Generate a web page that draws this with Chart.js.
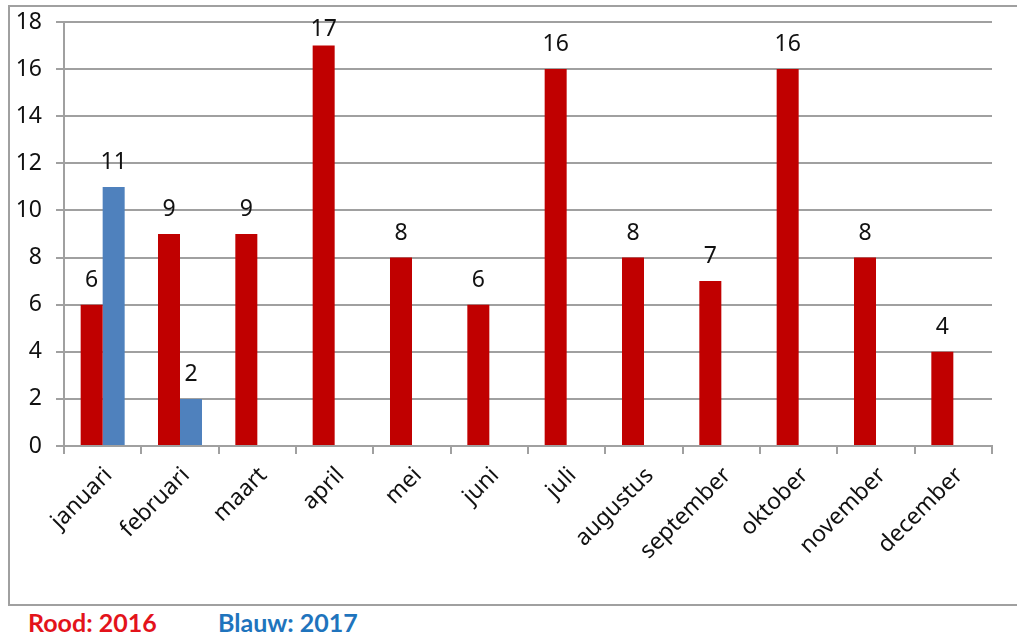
<!DOCTYPE html>
<html>
<head>
<meta charset="utf-8">
<script src="https://cdn.jsdelivr.net/npm/chart.js@4/dist/chart.umd.min.js"></script>
<style>
  html, body { margin: 0; padding: 0; background: #fff; }
  body { width: 1017px; height: 639px; position: relative; overflow: hidden; font-family: "Noto Sans", sans-serif; }
  #frame { position: absolute; left: 8px; top: 5px; width: 1020px; height: 597px; border: 2px solid #a0a0a0; border-right: none; }
  #wrap { position: absolute; left: 0; top: 0; width: 1017px; height: 604px; }
  .legend { position: absolute; top: 607px; font-family: "Lato", sans-serif; font-weight: bold; font-size: 25px; }
</style>
</head>
<body>
<div id="frame"></div>
<div id="wrap"><canvas id="chart"></canvas></div>
<div class="legend" style="left:28px;color:#e3131b">Rood: 2016</div>
<div class="legend" style="left:218px;color:#1f74bd">Blauw: 2017</div>
<script>
const months = ["januari", "februari", "maart", "april", "mei", "juni", "juli",
  "augustus", "september", "oktober", "november", "december"];
const values2016 = [6, 9, 9, 17, 8, 6, 16, 8, 7, 16, 8, 4];
const values2017 = [11, 2, null, null, null, null, null, null, null, null, null, null];
const yTicks = [0, 2, 4, 6, 8, 10, 12, 14, 16, 18];

// values above the bars, kept inside the plot like the original
const valueLabels = {
  id: 'valueLabels',
  afterDatasetsDraw(chart) {
    const ctx = chart.ctx;
    ctx.save();
    ctx.font = '23px "Noto Sans"';
    ctx.fillStyle = '#111';
    ctx.textAlign = 'center';
    ctx.textBaseline = 'alphabetic';
    chart.data.datasets.forEach((ds, i) => {
      chart.getDatasetMeta(i).data.forEach((bar, j) => {
        if (ds.data[j] == null) return;
        const y = Math.max(bar.y - 18, chart.chartArea.top + 14);
        ctx.fillText(ds.data[j], bar.x, y);
      });
    });
    ctx.restore();
  }
};

new Chart(document.getElementById("chart"), {
  type: 'bar',
  data: {
    labels: months,
    datasets: [
      { label: '2016', data: values2016, backgroundColor: '#c00000' },
      { label: '2017', data: values2017, backgroundColor: '#4f81bd' }
    ]
  },
  options: {
    responsive: true,
    maintainAspectRatio: false,
    animation: false,
    layout: { padding: { left: 10, right: 25, top: 22, bottom: 0 } },
    datasets: { bar: { categoryPercentage: 0.569, barPercentage: 1.0 } },
    plugins: { legend: { display: false }, tooltip: { enabled: false } },
    scales: {
      x: {
        grid: { drawOnChartArea: false, drawTicks: true, tickLength: 8, color: '#a0a0a0', lineWidth: 2 },
        border: { color: '#a0a0a0', width: 2 },
        ticks: { minRotation: 45, maxRotation: 45, padding: 8, labelOffset: 6, color: '#111', font: { family: 'Noto Sans', size: 23 } },
        afterFit(scale) { scale.height = 158; }
      },
      y: {
        min: 0, max: 18,
        afterBuildTicks(scale) { scale.ticks = yTicks.map(v => ({ value: v })); },
        grid: { color: '#a0a0a0', lineWidth: 2, tickLength: 8 },
        border: { color: '#a0a0a0', width: 2 },
        ticks: { padding: 14, color: '#111', font: { family: 'Noto Sans', size: 23 } },
        afterFit(scale) { scale.width = 54; scale.paddingTop = 0; scale.paddingBottom = 0; }
      }
    }
  },
  plugins: [valueLabels]
});
</script>
</body>
</html>
